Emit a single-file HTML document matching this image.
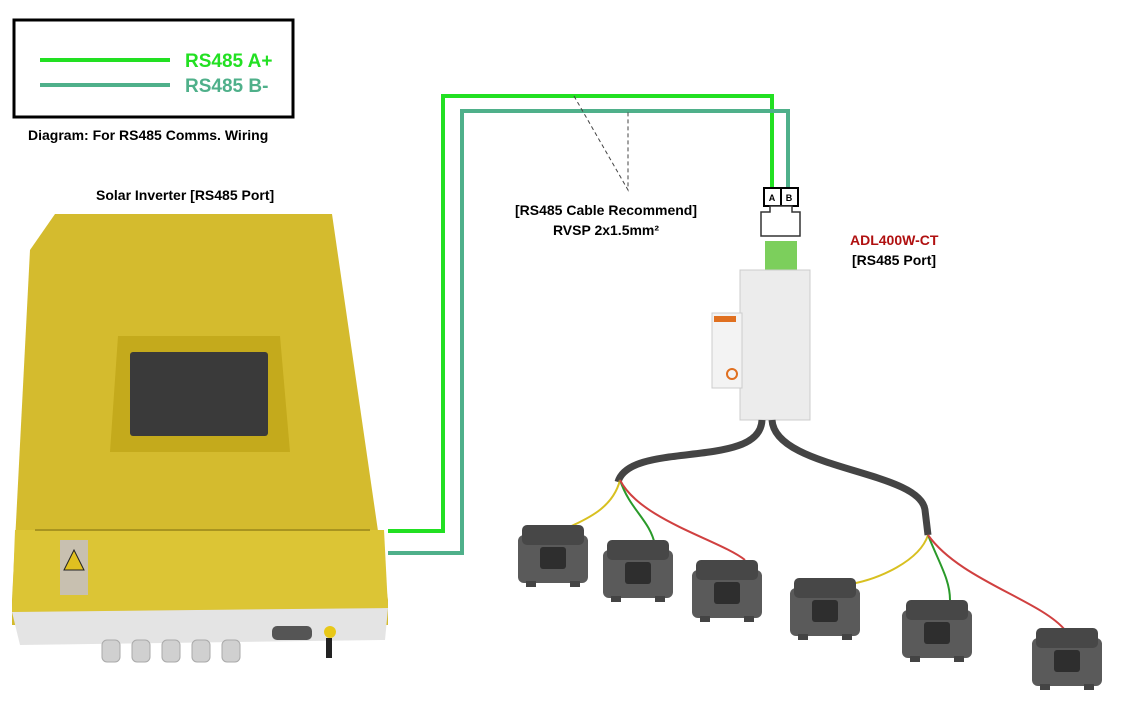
<!DOCTYPE html>
<html><head><meta charset="utf-8"><style>
body{margin:0;background:#fff;width:1123px;height:712px;overflow:hidden;font-family:"Liberation Sans",Arial,sans-serif}
svg{position:absolute;left:0;top:0}
</style></head><body>
<svg width="1123" height="712" viewBox="0 0 1123 712">
<defs>
<g id="ct">
<rect x="0" y="10" width="70" height="48" rx="6" fill="#5a5a5a"/>
<rect x="4" y="0" width="62" height="20" rx="5" fill="#474747"/>
<rect x="22" y="22" width="26" height="22" rx="3" fill="#2e2e2e"/>
<rect x="8" y="56" width="10" height="6" fill="#444"/><rect x="52" y="56" width="10" height="6" fill="#444"/>
</g>
</defs>
<rect x="14" y="20" width="279" height="97" fill="#fff" stroke="#000" stroke-width="3"/>
<line x1="40" y1="60" x2="170" y2="60" stroke="#22e022" stroke-width="4"/>
<line x1="40" y1="85" x2="170" y2="85" stroke="#4fb08a" stroke-width="4"/>
<text x="185" y="67" font-size="19" font-weight="bold" fill="#22e022">RS485 A+</text>
<text x="185" y="92" font-size="19" font-weight="bold" fill="#4fb08a">RS485 B-</text>
<text x="28" y="140" font-size="14" font-weight="bold">Diagram: For RS485 Comms. Wiring</text>
<text x="96" y="200" font-size="14" font-weight="bold">Solar Inverter [RS485 Port]</text>
<polygon points="55,214 332,214 388,600 388,625 12,625 12,600 30,250" fill="#d4bb2e"/>
<polygon points="15,530 384,530 388,608 12,612" fill="#dcc535"/>
<line x1="35" y1="530" x2="370" y2="530" stroke="#a89420" stroke-width="2"/>
<polygon points="12,612 388,608 385,640 20,645" fill="#e4e4e4"/>
<g fill="#d0d0d0" stroke="#aaa"><rect x="102" y="640" width="18" height="22" rx="5"/><rect x="132" y="640" width="18" height="22" rx="5"/><rect x="162" y="640" width="18" height="22" rx="5"/><rect x="192" y="640" width="18" height="22" rx="5"/><rect x="222" y="640" width="18" height="22" rx="5"/></g>
<rect x="272" y="626" width="40" height="14" rx="5" fill="#555"/>
<circle cx="330" cy="632" r="6" fill="#e8c818"/><rect x="326" y="638" width="6" height="20" fill="#222"/>
<rect x="60" y="540" width="28" height="55" fill="#c8c0b0"/><polygon points="74,550 64,570 84,570" fill="#e0c020" stroke="#222"/>
<polygon points="118,336 280,336 290,452 110,452" fill="#c4aa1c"/>
<rect x="130" y="352" width="138" height="84" rx="3" fill="#3a3a3a"/>
<polyline points="388,531 443,531 443,96 772,96 772,190" fill="none" stroke="#22e022" stroke-width="4"/>
<polyline points="388,553 462,553 462,111 788,111 788,190" fill="none" stroke="#4fb08a" stroke-width="4"/>
<polyline points="574,96 628,190 628,111" fill="none" stroke="#444" stroke-width="1" stroke-dasharray="4,3"/>
<text x="606" y="215" font-size="14" font-weight="bold" text-anchor="middle">[RS485 Cable Recommend]</text>
<text x="606" y="235" font-size="14" font-weight="bold" text-anchor="middle">RVSP 2x1.5mm²</text>
<text x="850" y="245" font-size="14" font-weight="bold" fill="#b01010">ADL400W-CT</text>
<text x="852" y="265" font-size="14" font-weight="bold">[RS485 Port]</text>
<rect x="764" y="188" width="34" height="18" fill="#fff" stroke="#000" stroke-width="2"/>
<line x1="781" y1="188" x2="781" y2="206" stroke="#000" stroke-width="2"/>
<text x="772" y="201" font-size="9" font-weight="bold" text-anchor="middle">A</text>
<text x="789" y="201" font-size="9" font-weight="bold" text-anchor="middle">B</text>
<polygon points="770,206 792,206 792,212 800,212 800,236 761,236 761,212 770,212" fill="#fff" stroke="#333" stroke-width="1.5"/>
<rect x="765" y="241" width="32" height="30" fill="#7ccf5c"/>
<rect x="740" y="270" width="70" height="150" fill="#ececec" stroke="#ccc"/>
<rect x="712" y="313" width="30" height="75" fill="#f3f3f3" stroke="#ccc"/>
<rect x="714" y="316" width="22" height="6" fill="#e07020"/>
<circle cx="732" cy="374" r="5" fill="none" stroke="#e07020" stroke-width="2"/>
<path d="M762,420 C760,470 630,440 618,482" fill="none" stroke="#444" stroke-width="7"/>
<path d="M772,420 C775,470 920,470 925,510 L928,535" fill="none" stroke="#444" stroke-width="7"/>
<path d="M620,480 C610,520 560,525 560,535" fill="none" stroke="#d8c020" stroke-width="2"/>
<path d="M620,480 C630,510 650,520 655,545" fill="none" stroke="#2a9a2a" stroke-width="2"/>
<path d="M620,480 C640,520 720,540 745,560" fill="none" stroke="#d04040" stroke-width="2"/>
<path d="M928,535 C920,560 880,580 845,585" fill="none" stroke="#d8c020" stroke-width="2"/>
<path d="M928,535 C940,565 950,580 950,600" fill="none" stroke="#2a9a2a" stroke-width="2"/>
<path d="M928,535 C960,580 1040,600 1065,630" fill="none" stroke="#d04040" stroke-width="2"/>
<use href="#ct" x="518" y="525"/>
<use href="#ct" x="603" y="540"/>
<use href="#ct" x="692" y="560"/>
<use href="#ct" x="790" y="578"/>
<use href="#ct" x="902" y="600"/>
<use href="#ct" x="1032" y="628"/>
</svg>
</body></html>
